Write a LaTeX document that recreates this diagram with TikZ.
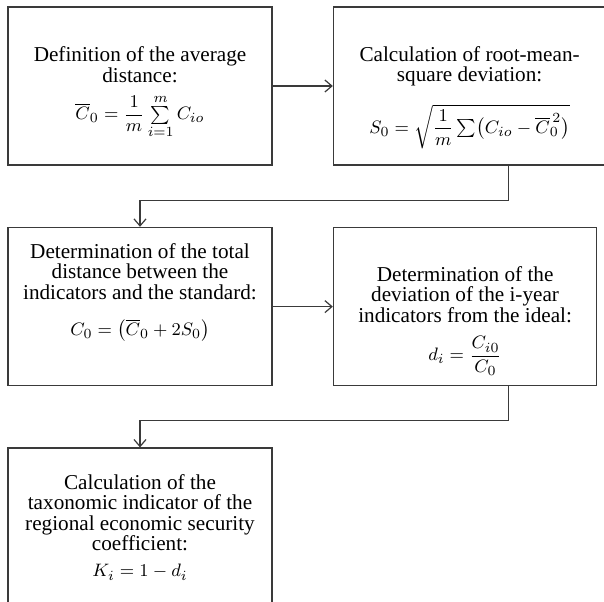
\documentclass[tikz,border=0pt]{standalone}
\usepackage{amsmath}
\usepackage[no-math]{fontspec}
\setmainfont{Liberation Serif}
\usepackage{tikz}
\usetikzlibrary{arrows.meta,positioning,calc}
\definecolor{boxline}{HTML}{3A3A3A}
\newcommand{\StageMath}[1]{{\fontsize{9.4}{10}\selectfont$#1$}}
\tikzset{
  stagebox/.style={draw=boxline, line width=0.8pt, minimum width=132pt, minimum height=79pt,
    inner sep=2pt, align=center, font=\fontsize{10.6}{10.2}\selectfont},
  flow/.style={draw=boxline, line width=0.6pt, -{Straight Barb[length=3.5pt,width=6pt]}}
}

\begin{document}
\begin{tikzpicture}[x=0.5pt,y=-0.5pt]
  \useasboundingbox (0,0) rectangle (604,601);
  \clip (0,0) rectangle (604,601);
  % first row
  \node[stagebox] (avg) at (140,86) {\rule{0pt}{14pt}Definition of the average\\ distance:\\[5pt]
    \StageMath{\overline{C}_0=\dfrac{1}{m}\sum\limits_{i=1}^{m}C_{io}}};
  \node[stagebox, minimum width=136pt, right=30pt of avg] (rms) {\rule{0pt}{19pt}Calculation of root-mean-\\ square deviation:\\[8pt]
    \StageMath{S_0=\sqrt{\dfrac{1}{m}\textstyle\sum\bigl(C_{io}-\overline{C}_0^{\,2}\bigr)}}};
  % second row
  \node[stagebox, below=30.5pt of avg] (dist) {Determination of the total\\ distance between the\\ indicators and the standard:\\[8pt]
    \StageMath{C_0=\bigl(\overline{C}_0+2S_0\bigr)}\\[7pt]};
  \node[stagebox, minimum width=131.5pt, right=30pt of dist] (dev) {\rule{0pt}{22pt}Determination of the\\ deviation of the i-year\\ indicators from the ideal:\\[6pt]
    \StageMath{d_i=\dfrac{C_{i0}}{C_0}}};
  % last row
  \node[stagebox, below=30.5pt of dist] (coef) {Calculation of the\\ taxonomic indicator of the\\ regional economic security\\ coefficient:\\[3pt]
    \StageMath{K_i=1-d_i}};
  \draw[flow] (avg) -- (rms);
  \draw[flow] ([xshift=19.5pt]rms.south) -- ++(0,35) -| (dist.north);
  \draw[flow] (dist) -- (dev);
  \draw[flow] ([xshift=21.75pt]dev.south) -- ++(0,34) -| (coef.north);
\end{tikzpicture}
\end{document}
